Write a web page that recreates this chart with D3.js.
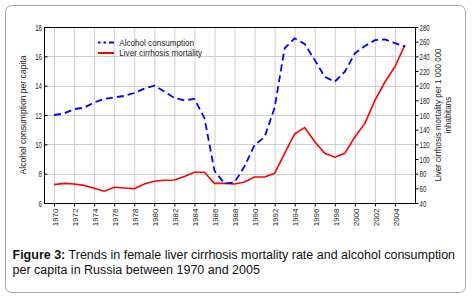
<!DOCTYPE html>
<html>
<head>
<meta charset="utf-8">
<script src="https://cdn.jsdelivr.net/npm/d3@7"></script>
<style>
  body { margin: 0; background: #fff; }
  svg { display: block; }
</style>
</head>
<body>
<div id="chart"></div>
<script>
// values
const years = [1970, 1971, 1972, 1973, 1974, 1975, 1976, 1977, 1978, 1979,
    1980, 1981, 1982, 1983, 1984, 1985, 1986, 1987, 1988, 1989,
    1990, 1991, 1992, 1993, 1994, 1995, 1996, 1997, 1998, 1999,
    2000, 2001, 2002, 2003, 2004, 2005];
const alcohol = [12.0, 12.1, 12.4, 12.5, 12.85, 13.1, 13.2, 13.3, 13.5, 13.8,
    14.0, 13.6, 13.17, 13.0, 13.1, 11.8, 8.2, 7.33, 7.4, 8.5,
    9.95, 10.5, 12.5, 16.55, 17.23, 16.84, 15.75, 14.6, 14.27, 14.95,
    16.2, 16.7, 17.1, 17.15, 16.9, 16.66];
const mortality = [65, 66.8, 66, 64, 60, 56, 61.4, 60.5, 59.5, 66,
    69.6, 71, 71.4, 76, 82, 82, 66.8, 66.8, 66, 68.6,
    75.5, 75.5, 80.5, 107.7, 134.5, 143, 123.6, 107.7, 102.5, 107.7,
    130, 148.5, 180, 205, 226, 255.5];
const yearTicks = [1970, 1972, 1974, 1976, 1978, 1980, 1982, 1984, 1986, 1988,
    1990, 1992, 1994, 1996, 1998, 2000, 2002, 2004];
const leftTicks = [6, 8, 10, 12, 14, 16, 18];
const rightTicks = [40, 60, 80, 100, 120, 140, 160, 180, 200, 220, 240, 260, 280];
const seriesNames = ["Alcohol consumption", "Liver cirrhosis mortality"];

const W = 475, H = 300;
const margin = {top: 27, right: 60, bottom: 97, left: 44};
const width = W - margin.left - margin.right;
const height = H - margin.top - margin.bottom;
const font = "'Liberation Sans', Arial, sans-serif";

// the original uses a narrow face; squeeze glyphs horizontally to match
function squeeze(sel, factor) {
    sel.each(function() {
        const n = this.getComputedTextLength();
        d3.select(this)
            .attr("textLength", n * factor)
            .attr("lengthAdjust", "spacingAndGlyphs");
    });
}

const svg = d3.select("#chart").append("svg")
    .attr("width", W)
    .attr("height", H);

// outer rounded frame
svg.append("rect")
    .attr("x", 5.5).attr("y", 5.5)
    .attr("width", 460).attr("height", 287)
    .attr("rx", 6)
    .attr("fill", "#fff")
    .attr("stroke", "#a8a8a8");

const g = svg.append("g")
    .attr("transform", "translate(" + margin.left + "," + margin.top + ")");

// scales
const x = d3.scaleLinear().domain([1969, 2006]).range([0, width]);
const yL = d3.scaleLinear().domain([6, 18]).range([height, 0]);
const yR = d3.scaleLinear().domain([40, 280]).range([height, 0]);

// grid
g.append("g").attr("class", "grid")
    .selectAll("line").data(yearTicks).join("line")
    .attr("x1", d => x(d) + 0.5).attr("x2", d => x(d) + 0.5)
    .attr("y1", 0).attr("y2", height)
    .attr("stroke", "#cfcfcf");
g.append("g").attr("class", "grid")
    .selectAll("line").data(leftTicks.slice(1, -1)).join("line")
    .attr("x1", 0).attr("x2", width)
    .attr("y1", d => Math.round(yL(d)) + 0.5).attr("y2", d => Math.round(yL(d)) + 0.5)
    .attr("stroke", "#cfcfcf");

// plot frame
g.append("rect")
    .attr("x", 0.5).attr("y", 0.5)
    .attr("width", width).attr("height", height)
    .attr("fill", "none")
    .attr("stroke", "#000");

// axes
const xAxis = d3.axisBottom(x).tickValues(yearTicks).tickFormat(d3.format("d")).tickSize(3).tickSizeOuter(0);
const gx = g.append("g")
    .attr("class", "x-axis axis")
    .attr("transform", "translate(0," + (height + 0.5) + ")")
    .call(xAxis);
gx.select(".domain").remove();
gx.selectAll("text")
    .attr("transform", "rotate(-90)")
    .attr("x", -5).attr("y", 0.5).attr("dy", "0.35em")
    .attr("text-anchor", "end")
    .attr("font-size", 8);

const yAxisL = d3.axisLeft(yL).tickValues(leftTicks).tickSize(-3).tickPadding(2.5);
const gl = g.append("g").attr("class", "y-axis axis")
    .attr("transform", "translate(0.5,0)")
    .call(yAxisL);
gl.select(".domain").remove();

const yAxisR = d3.axisRight(yR).tickValues(rightTicks).tickSize(3).tickPadding(1);
const gr = g.append("g").attr("class", "y-axis axis")
    .attr("transform", "translate(" + (width + 0.5) + ",0)")
    .call(yAxisR);
gr.select(".domain").remove();

svg.selectAll(".axis text")
    .attr("font-family", font)
    .attr("fill", "#222");
gl.selectAll("text").attr("font-size", 9.5);
gr.selectAll("text").attr("font-size", 9.5);
squeeze(gl.selectAll("text"), 0.64);
squeeze(gr.selectAll("text"), 0.64);
svg.selectAll(".axis line").attr("stroke", "#000");

// axis titles
const lt = g.append("text")
    .attr("transform", "translate(-21," + (height / 2) + ") rotate(-90)")
    .attr("text-anchor", "middle")
    .attr("dy", "0.35em")
    .attr("font-family", font)
    .attr("font-size", 9.5)
    .attr("fill", "#222")
    .text("Alcohol consumption per capita");
squeeze(lt, 0.9);
const rt = g.append("text")
    .attr("transform", "translate(" + (width + 26) + "," + (height / 2) + ") rotate(-90)")
    .attr("text-anchor", "middle")
    .attr("font-family", font)
    .attr("font-size", 9.5)
    .attr("fill", "#222");
rt.append("tspan").attr("x", 0).attr("dy", 0).text("Liver cirrhosis mortality per 1 000 000");
rt.append("tspan").attr("x", 0).attr("dy", "1.1em").text("inhabitans");
squeeze(rt.selectAll("tspan"), 0.84);

// lines
const alcLine = d3.line().x((d, i) => x(years[i])).y(d => yL(d));
const morLine = d3.line().x((d, i) => x(years[i])).y(d => yR(d));

g.append("path")
    .datum(mortality)
    .attr("fill", "none")
    .attr("stroke", "#ff0000")
    .attr("stroke-width", 1.6)
    .attr("d", morLine);

g.append("path")
    .datum(alcohol)
    .attr("fill", "none")
    .attr("stroke", "#0000ff")
    .attr("stroke-width", 1.8)
    .attr("stroke-dasharray", "7,4")
    .attr("d", alcLine);

// legend
const legend = g.append("g").attr("transform", "translate(54,15.5)");
const legendStyles = [
    {stroke: "#0000ff", dash: "2.5,3,2.5,3,6", width: 2},
    {stroke: "#ff0000", dash: null, width: 2}
];
seriesNames.forEach((name, i) => {
    const row = legend.append("g").attr("transform", "translate(0," + (i * 10.5) + ")");
    row.append("line")
        .attr("x1", 0).attr("x2", 16)
        .attr("stroke", legendStyles[i].stroke)
        .attr("stroke-width", legendStyles[i].width)
        .attr("stroke-dasharray", legendStyles[i].dash);
    const t = row.append("text")
        .attr("x", 21.3).attr("dy", "0.35em")
        .attr("font-family", font)
        .attr("font-size", 9)
        .attr("fill", "#222")
        .text(name);
    squeeze(t, 0.9);
});

// caption
const cap = svg.append("text")
    .attr("font-family", font)
    .attr("font-size", 12.5)
    .attr("fill", "#111");
const l1 = cap.append("tspan").attr("x", 12.5).attr("y", 258.5);
l1.append("tspan").attr("font-weight", "bold").text("Figure 3:");
l1.append("tspan").text(" Trends in female liver cirrhosis mortality rate and alcohol consumption");
cap.append("tspan").attr("x", 12.5).attr("y", 273.5)
    .text("per capita in Russia between 1970 and 2005");
</script>
</body>
</html>
